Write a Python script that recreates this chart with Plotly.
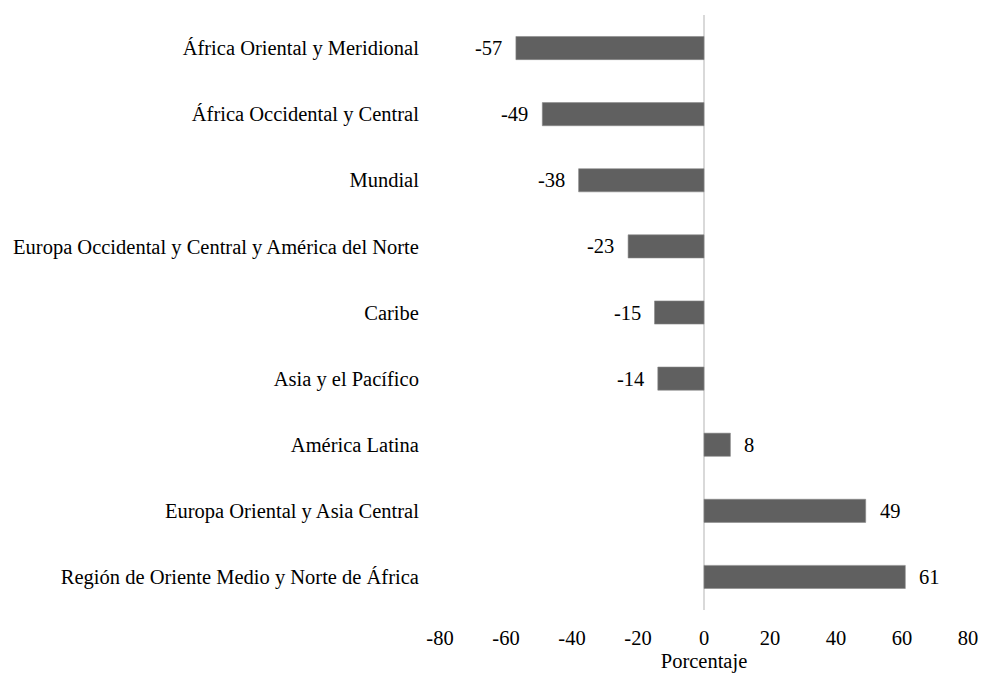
import plotly.graph_objects as go

regions = [
    "África Oriental y Meridional",
    "África Occidental y Central",
    "Mundial",
    "Europa Occidental y Central y América del Norte",
    "Caribe",
    "Asia y el Pacífico",
    "América Latina",
    "Europa Oriental y Asia Central",
    "Región de Oriente Medio y Norte de África",
]
change_pct = [-57, -49, -38, -23, -15, -14, 8, 49, 61]
x_ticks = [-80, -60, -40, -20, 0, 20, 40, 60, 80]

font_family = "Liberation Serif"
font_size = 20.5

fig = go.Figure(
    go.Bar(
        x=change_pct,
        y=regions,
        orientation="h",
        width=0.35,
        marker=dict(color="#606060", line=dict(color="#8a8a8a", width=0.6)),
        cliponaxis=False,
        hoverinfo="x+y",
    )
)

# value labels just past the end of each bar
for region, v in zip(regions, change_pct):
    fig.add_annotation(
        x=v,
        y=region,
        text=str(v),
        showarrow=False,
        xanchor="left" if v >= 0 else "right",
        xshift=12 if v >= 0 else -12,
        font=dict(family=font_family, size=font_size, color="#000000"),
    )

fig.update_layout(
    width=982,
    height=673,
    margin=dict(l=440, r=14, t=15, b=63, autoexpand=False),
    plot_bgcolor="white",
    paper_bgcolor="white",
    font=dict(family=font_family, size=font_size, color="#000000"),
    showlegend=False,
    xaxis=dict(
        range=[-80, 80],
        tickvals=x_ticks,
        ticktext=[str(t) for t in x_ticks],
        showgrid=False,
        zeroline=True,
        zerolinecolor="#d9d9d9",
        zerolinewidth=2,
        showline=False,
        ticks="outside",
        ticklen=9,
        tickcolor="rgba(0,0,0,0)",
        automargin=False,
        title=dict(text="Porcentaje", standoff=6, font=dict(size=font_size)),
    ),
    yaxis=dict(
        autorange="reversed",
        showgrid=False,
        showline=False,
        ticks="outside",
        ticklen=16,
        tickcolor="rgba(0,0,0,0)",
        automargin=False,
    ),
)

fig.write_html("out.html")
